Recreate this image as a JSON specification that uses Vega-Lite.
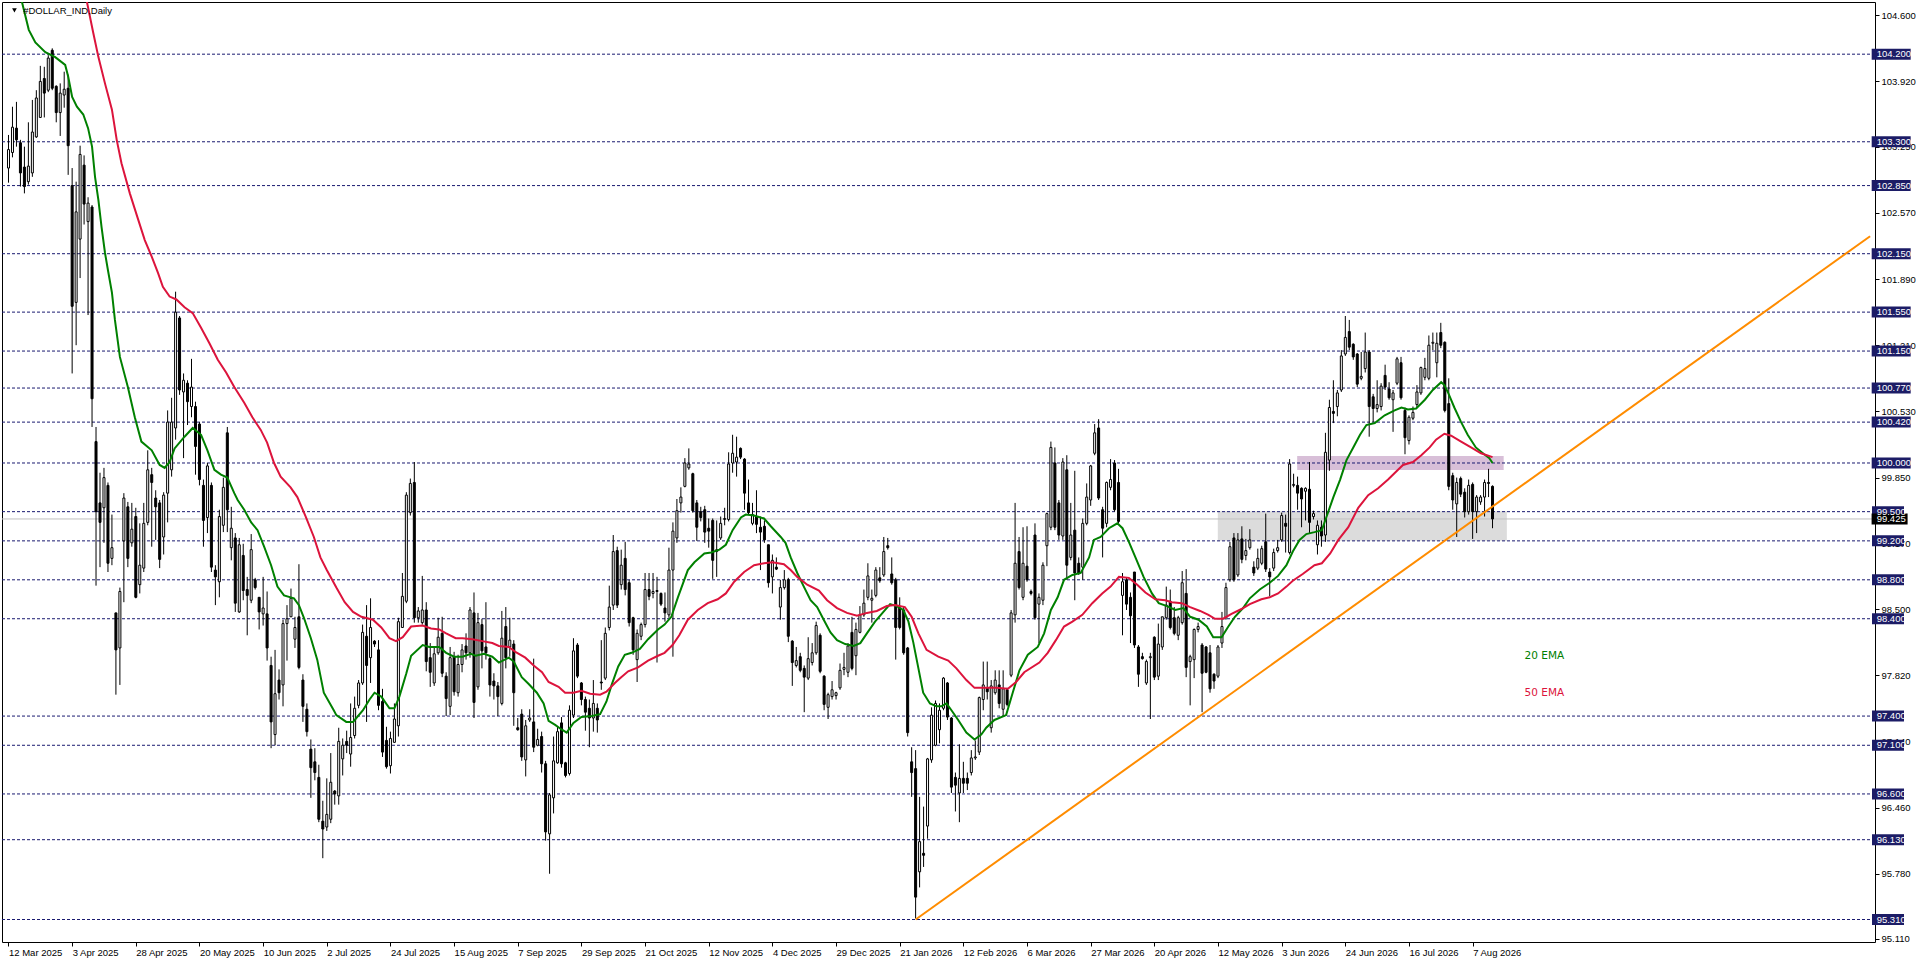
{
  "$schema": "https://vega.github.io/schema/vega-lite/v6.json",
  "width": 1873,
  "height": 940,
  "autosize": {"type": "none"},
  "padding": {"left": 2, "top": 2, "right": 41, "bottom": 21},
  "background": "white",
  "config": {
    "view": {"stroke": "black", "strokeWidth": 1},
    "axis": {"domain": false, "grid": false, "labelFont": "Liberation Sans", "labelFontSize": 9.5, "labelColor": "black", "tickColor": "black", "tickSize": 4}
  },
  "resolve": {"scale": {"color": "independent"}},
  "datasets": {
    "bars": [
      {"i":0,"o":103.03,"h":103.37,"l":102.88,"c":103.22},
      {"i":1,"o":103.19,"h":103.66,"l":103.14,"c":103.45},
      {"i":2,"o":103.44,"h":103.71,"l":103.25,"c":103.32},
      {"i":3,"o":103.29,"h":103.32,"l":102.84,"c":102.98},
      {"i":4,"o":103.04,"h":103.25,"l":102.77,"c":102.84},
      {"i":5,"o":102.89,"h":103.50,"l":102.86,"c":103.05},
      {"i":6,"o":102.98,"h":103.73,"l":102.94,"c":103.40},
      {"i":7,"o":103.35,"h":103.83,"l":103.34,"c":103.75},
      {"i":8,"o":103.55,"h":104.08,"l":103.55,"c":103.92},
      {"i":9,"o":103.95,"h":104.07,"l":103.55,"c":103.80},
      {"i":10,"o":103.83,"h":104.19,"l":103.81,"c":104.16},
      {"i":11,"o":104.24,"h":104.26,"l":103.83,"c":103.85},
      {"i":12,"o":103.87,"h":103.88,"l":103.50,"c":103.60},
      {"i":13,"o":103.60,"h":103.90,"l":103.36,"c":103.80},
      {"i":14,"o":103.78,"h":104.02,"l":103.65,"c":103.84},
      {"i":15,"o":103.85,"h":103.99,"l":102.96,"c":103.26},
      {"i":16,"o":102.85,"h":103.03,"l":100.92,"c":101.61},
      {"i":17,"o":101.65,"h":102.89,"l":101.21,"c":102.58},
      {"i":18,"o":102.30,"h":103.26,"l":101.90,"c":103.17},
      {"i":19,"o":103.06,"h":103.16,"l":102.45,"c":102.66},
      {"i":20,"o":102.48,"h":102.73,"l":101.52,"c":102.67},
      {"i":21,"o":102.63,"h":102.65,"l":100.37,"c":100.66},
      {"i":22,"o":100.22,"h":100.37,"l":98.74,"c":99.50},
      {"i":23,"o":99.59,"h":99.90,"l":98.93,"c":99.39},
      {"i":24,"o":99.54,"h":99.95,"l":99.18,"c":99.85},
      {"i":25,"o":99.77,"h":99.80,"l":98.88,"c":98.97},
      {"i":26,"o":99.02,"h":99.47,"l":98.95,"c":99.13},
      {"i":27,"o":98.46,"h":98.46,"l":97.62,"c":98.08},
      {"i":28,"o":98.10,"h":98.72,"l":97.72,"c":98.68},
      {"i":29,"o":99.20,"h":99.69,"l":98.57,"c":99.64},
      {"i":30,"o":99.55,"h":99.60,"l":98.93,"c":99.02},
      {"i":31,"o":99.18,"h":99.59,"l":99.14,"c":99.32},
      {"i":32,"o":99.45,"h":99.54,"l":98.61,"c":98.62},
      {"i":33,"o":98.75,"h":99.38,"l":98.66,"c":98.95},
      {"i":34,"o":98.92,"h":99.59,"l":98.88,"c":99.38},
      {"i":35,"o":99.39,"h":100.13,"l":99.36,"c":99.93},
      {"i":36,"o":99.88,"h":99.95,"l":99.14,"c":99.80},
      {"i":37,"o":99.64,"h":99.72,"l":99.21,"c":99.55},
      {"i":38,"o":99.59,"h":99.62,"l":98.92,"c":99.01},
      {"i":39,"o":99.24,"h":99.70,"l":99.06,"c":99.67},
      {"i":40,"o":99.69,"h":100.54,"l":99.39,"c":100.42},
      {"i":41,"o":99.93,"h":100.67,"l":99.86,"c":100.42},
      {"i":42,"o":100.36,"h":101.76,"l":100.24,"c":101.55},
      {"i":43,"o":101.49,"h":101.51,"l":100.70,"c":100.75},
      {"i":44,"o":100.73,"h":100.92,"l":100.05,"c":100.85},
      {"i":45,"o":100.82,"h":100.85,"l":100.39,"c":100.63},
      {"i":46,"o":100.58,"h":101.07,"l":100.47,"c":100.78},
      {"i":47,"o":100.58,"h":100.63,"l":99.88,"c":100.17},
      {"i":48,"o":100.40,"h":100.42,"l":99.77,"c":99.83},
      {"i":49,"o":99.77,"h":99.83,"l":99.14,"c":99.41},
      {"i":50,"o":99.44,"h":100.00,"l":99.28,"c":99.97},
      {"i":51,"o":99.77,"h":99.80,"l":98.88,"c":98.93},
      {"i":52,"o":98.90,"h":98.95,"l":98.54,"c":98.83},
      {"i":53,"o":98.78,"h":99.52,"l":98.62,"c":99.45},
      {"i":54,"o":99.36,"h":99.85,"l":99.29,"c":99.75},
      {"i":55,"o":100.31,"h":100.37,"l":99.29,"c":99.52},
      {"i":56,"o":99.13,"h":99.55,"l":99.00,"c":99.33},
      {"i":57,"o":99.23,"h":99.28,"l":98.47,"c":98.56},
      {"i":58,"o":98.47,"h":99.23,"l":98.46,"c":99.16},
      {"i":59,"o":99.05,"h":99.17,"l":98.59,"c":98.69},
      {"i":60,"o":98.70,"h":98.83,"l":98.23,"c":98.64},
      {"i":61,"o":98.59,"h":99.27,"l":98.56,"c":99.11},
      {"i":62,"o":98.80,"h":98.82,"l":98.70,"c":98.72},
      {"i":63,"o":98.62,"h":98.62,"l":98.29,"c":98.47},
      {"i":64,"o":98.45,"h":98.83,"l":98.33,"c":98.51},
      {"i":65,"o":98.45,"h":98.68,"l":97.97,"c":98.10},
      {"i":66,"o":97.92,"h":98.01,"l":97.07,"c":97.34},
      {"i":67,"o":97.21,"h":98.08,"l":97.10,"c":97.63},
      {"i":68,"o":97.77,"h":97.88,"l":97.57,"c":97.64},
      {"i":69,"o":97.72,"h":98.39,"l":97.50,"c":98.35},
      {"i":70,"o":98.35,"h":98.54,"l":97.97,"c":98.40},
      {"i":71,"o":98.42,"h":98.71,"l":98.42,"c":98.61},
      {"i":72,"o":98.19,"h":98.42,"l":98.10,"c":98.31},
      {"i":73,"o":98.42,"h":98.96,"l":97.88,"c":97.90},
      {"i":74,"o":97.77,"h":97.83,"l":97.34,"c":97.50},
      {"i":75,"o":97.47,"h":97.53,"l":97.19,"c":97.24},
      {"i":76,"o":97.06,"h":97.16,"l":96.56,"c":96.87},
      {"i":77,"o":96.93,"h":97.07,"l":96.74,"c":96.82},
      {"i":78,"o":96.77,"h":96.90,"l":96.31,"c":96.34},
      {"i":79,"o":96.32,"h":96.53,"l":95.94,"c":96.24},
      {"i":80,"o":96.26,"h":96.76,"l":96.22,"c":96.39},
      {"i":81,"o":96.34,"h":97.02,"l":96.30,"c":96.72},
      {"i":82,"o":96.63,"h":96.64,"l":96.49,"c":96.60},
      {"i":83,"o":96.58,"h":97.28,"l":96.49,"c":97.14},
      {"i":84,"o":96.96,"h":97.17,"l":96.79,"c":97.10},
      {"i":85,"o":97.14,"h":97.25,"l":97.02,"c":97.10},
      {"i":86,"o":97.01,"h":97.53,"l":96.88,"c":97.18},
      {"i":87,"o":97.20,"h":97.60,"l":97.17,"c":97.48},
      {"i":88,"o":97.51,"h":97.77,"l":97.48,"c":97.74},
      {"i":89,"o":97.74,"h":98.34,"l":97.72,"c":98.26},
      {"i":90,"o":98.22,"h":98.54,"l":97.34,"c":97.92},
      {"i":91,"o":98.00,"h":98.61,"l":97.74,"c":98.31},
      {"i":92,"o":98.17,"h":98.18,"l":98.11,"c":98.14},
      {"i":93,"o":98.08,"h":98.18,"l":97.46,"c":97.51},
      {"i":94,"o":97.55,"h":97.68,"l":96.98,"c":97.03},
      {"i":95,"o":97.15,"h":97.29,"l":96.86,"c":96.88},
      {"i":96,"o":96.89,"h":97.24,"l":96.81,"c":97.17},
      {"i":97,"o":97.13,"h":97.53,"l":97.13,"c":97.37},
      {"i":98,"o":97.30,"h":98.41,"l":97.19,"c":98.37},
      {"i":99,"o":98.31,"h":98.87,"l":98.31,"c":98.63},
      {"i":100,"o":98.58,"h":99.70,"l":98.56,"c":99.67},
      {"i":101,"o":99.49,"h":99.84,"l":99.46,"c":99.79},
      {"i":102,"o":99.80,"h":100.01,"l":98.36,"c":98.41},
      {"i":103,"o":98.41,"h":98.52,"l":98.36,"c":98.48},
      {"i":104,"o":98.36,"h":98.84,"l":98.34,"c":98.49},
      {"i":105,"o":98.49,"h":98.57,"l":97.86,"c":97.96},
      {"i":106,"o":98.00,"h":98.15,"l":97.70,"c":97.85},
      {"i":107,"o":97.74,"h":98.10,"l":97.71,"c":98.04},
      {"i":108,"o":98.05,"h":98.41,"l":98.03,"c":98.21},
      {"i":109,"o":98.25,"h":98.42,"l":97.80,"c":97.84},
      {"i":110,"o":97.81,"h":97.85,"l":97.40,"c":97.58},
      {"i":111,"o":97.50,"h":98.11,"l":97.41,"c":98.00},
      {"i":112,"o":98.01,"h":98.06,"l":97.61,"c":97.65},
      {"i":113,"o":97.64,"h":98.03,"l":97.60,"c":97.93},
      {"i":114,"o":97.93,"h":98.14,"l":97.85,"c":98.08},
      {"i":115,"o":98.12,"h":98.25,"l":97.98,"c":98.05},
      {"i":116,"o":98.05,"h":98.52,"l":98.00,"c":98.49},
      {"i":117,"o":98.46,"h":98.67,"l":97.38,"c":97.54},
      {"i":118,"o":97.70,"h":98.46,"l":97.67,"c":98.36},
      {"i":119,"o":98.34,"h":98.40,"l":97.89,"c":98.07},
      {"i":120,"o":98.11,"h":98.57,"l":97.98,"c":98.05},
      {"i":121,"o":97.99,"h":98.01,"l":97.60,"c":97.72},
      {"i":122,"o":97.76,"h":97.84,"l":97.57,"c":97.71},
      {"i":123,"o":97.71,"h":97.75,"l":97.40,"c":97.60},
      {"i":124,"o":97.53,"h":98.48,"l":97.51,"c":98.20},
      {"i":125,"o":98.32,"h":98.52,"l":97.89,"c":98.00},
      {"i":126,"o":98.11,"h":98.41,"l":98.01,"c":98.18},
      {"i":127,"o":98.14,"h":98.18,"l":97.30,"c":97.64},
      {"i":128,"o":97.28,"h":97.38,"l":97.25,"c":97.26},
      {"i":129,"o":97.42,"h":97.47,"l":96.94,"c":96.98},
      {"i":130,"o":96.95,"h":97.36,"l":96.78,"c":97.30},
      {"i":131,"o":97.36,"h":97.47,"l":97.34,"c":97.38},
      {"i":132,"o":97.34,"h":97.99,"l":97.03,"c":97.08},
      {"i":133,"o":97.10,"h":97.27,"l":97.09,"c":97.16},
      {"i":134,"o":97.19,"h":97.24,"l":96.82,"c":96.91},
      {"i":135,"o":96.91,"h":96.94,"l":96.12,"c":96.21},
      {"i":136,"o":96.19,"h":96.61,"l":95.78,"c":96.59},
      {"i":137,"o":96.56,"h":97.19,"l":96.40,"c":96.94},
      {"i":138,"o":96.92,"h":97.29,"l":96.91,"c":97.24},
      {"i":139,"o":97.33,"h":97.39,"l":96.87,"c":96.91},
      {"i":140,"o":96.92,"h":96.93,"l":96.77,"c":96.79},
      {"i":141,"o":96.81,"h":97.51,"l":96.79,"c":97.46},
      {"i":142,"o":97.41,"h":98.20,"l":97.38,"c":98.07},
      {"i":143,"o":98.13,"h":98.15,"l":97.79,"c":97.81},
      {"i":144,"o":97.74,"h":97.75,"l":97.51,"c":97.57},
      {"i":145,"o":97.57,"h":97.60,"l":97.25,"c":97.44},
      {"i":146,"o":97.48,"h":97.57,"l":97.08,"c":97.38},
      {"i":147,"o":97.38,"h":97.77,"l":97.24,"c":97.53},
      {"i":148,"o":97.48,"h":97.53,"l":97.23,"c":97.36},
      {"i":149,"o":97.75,"h":98.18,"l":97.67,"c":97.74},
      {"i":150,"o":97.79,"h":98.31,"l":97.77,"c":98.25},
      {"i":151,"o":98.31,"h":98.74,"l":98.28,"c":98.52},
      {"i":152,"o":98.54,"h":99.26,"l":98.49,"c":99.09},
      {"i":153,"o":99.10,"h":99.14,"l":98.51,"c":98.54},
      {"i":154,"o":98.75,"h":99.11,"l":98.70,"c":98.95},
      {"i":155,"o":99.02,"h":99.19,"l":98.64,"c":98.70},
      {"i":156,"o":98.77,"h":98.80,"l":98.32,"c":98.36},
      {"i":157,"o":98.41,"h":98.42,"l":98.03,"c":98.08},
      {"i":158,"o":97.98,"h":98.29,"l":97.75,"c":98.25},
      {"i":159,"o":98.22,"h":98.36,"l":98.18,"c":98.34},
      {"i":160,"o":98.34,"h":98.87,"l":98.31,"c":98.70},
      {"i":161,"o":98.70,"h":98.87,"l":98.59,"c":98.63},
      {"i":162,"o":98.66,"h":98.87,"l":98.61,"c":98.68},
      {"i":163,"o":98.68,"h":98.83,"l":97.95,"c":98.69},
      {"i":164,"o":98.66,"h":98.67,"l":98.53,"c":98.55},
      {"i":165,"o":98.51,"h":98.67,"l":98.37,"c":98.46},
      {"i":166,"o":98.44,"h":99.13,"l":98.41,"c":98.90},
      {"i":167,"o":98.90,"h":99.39,"l":98.01,"c":99.30},
      {"i":168,"o":99.23,"h":99.63,"l":99.18,"c":99.51},
      {"i":169,"o":99.59,"h":99.75,"l":99.49,"c":99.65},
      {"i":170,"o":99.76,"h":100.05,"l":99.75,"c":100.00},
      {"i":171,"o":99.95,"h":100.15,"l":99.93,"c":99.99},
      {"i":172,"o":99.89,"h":99.90,"l":99.49,"c":99.51},
      {"i":173,"o":99.59,"h":99.62,"l":99.20,"c":99.34},
      {"i":174,"o":99.50,"h":99.55,"l":99.40,"c":99.44},
      {"i":175,"o":99.52,"h":99.56,"l":99.18,"c":99.29},
      {"i":176,"o":99.33,"h":99.43,"l":99.13,"c":99.30},
      {"i":177,"o":99.41,"h":99.43,"l":98.81,"c":99.00},
      {"i":178,"o":99.09,"h":99.41,"l":98.83,"c":99.11},
      {"i":179,"o":99.23,"h":99.45,"l":99.21,"c":99.38},
      {"i":180,"o":99.42,"h":99.54,"l":99.36,"c":99.43},
      {"i":181,"o":99.42,"h":100.11,"l":99.40,"c":99.99},
      {"i":182,"o":100.00,"h":100.29,"l":99.90,"c":100.10},
      {"i":183,"o":100.01,"h":100.27,"l":99.86,"c":100.06},
      {"i":184,"o":100.15,"h":100.16,"l":100.04,"c":100.06},
      {"i":185,"o":100.04,"h":100.05,"l":99.52,"c":99.69},
      {"i":186,"o":99.59,"h":99.83,"l":99.47,"c":99.49},
      {"i":187,"o":99.38,"h":99.59,"l":99.36,"c":99.47},
      {"i":188,"o":99.45,"h":99.72,"l":99.28,"c":99.37},
      {"i":189,"o":99.34,"h":99.45,"l":98.90,"c":99.29},
      {"i":190,"o":99.35,"h":99.41,"l":99.18,"c":99.21},
      {"i":191,"o":99.16,"h":99.16,"l":98.72,"c":98.77},
      {"i":192,"o":98.83,"h":99.06,"l":98.66,"c":99.00},
      {"i":193,"o":98.93,"h":99.03,"l":98.90,"c":98.91},
      {"i":194,"o":98.52,"h":98.80,"l":98.39,"c":98.72},
      {"i":195,"o":98.72,"h":98.90,"l":98.70,"c":98.80},
      {"i":196,"o":98.80,"h":98.82,"l":98.16,"c":98.22},
      {"i":197,"o":98.17,"h":98.18,"l":97.71,"c":97.95},
      {"i":198,"o":97.92,"h":98.11,"l":97.90,"c":97.97},
      {"i":199,"o":98.01,"h":98.05,"l":97.85,"c":97.87},
      {"i":200,"o":97.89,"h":97.92,"l":97.44,"c":97.80},
      {"i":201,"o":97.79,"h":98.21,"l":97.77,"c":97.99},
      {"i":202,"o":97.95,"h":98.15,"l":97.92,"c":98.05},
      {"i":203,"o":98.05,"h":98.37,"l":98.03,"c":98.33},
      {"i":204,"o":98.23,"h":98.25,"l":97.84,"c":97.86},
      {"i":205,"o":97.81,"h":97.82,"l":97.46,"c":97.52},
      {"i":206,"o":97.49,"h":97.64,"l":97.37,"c":97.62},
      {"i":207,"o":97.60,"h":97.76,"l":97.57,"c":97.67},
      {"i":208,"o":97.61,"h":97.65,"l":97.57,"c":97.64},
      {"i":209,"o":97.69,"h":97.94,"l":97.67,"c":97.87},
      {"i":210,"o":97.88,"h":98.05,"l":97.82,"c":97.90},
      {"i":211,"o":97.85,"h":98.15,"l":97.80,"c":98.12},
      {"i":212,"o":98.26,"h":98.42,"l":97.87,"c":97.89},
      {"i":213,"o":98.02,"h":98.36,"l":97.82,"c":98.29},
      {"i":214,"o":98.26,"h":98.53,"l":98.25,"c":98.44},
      {"i":215,"o":98.44,"h":98.70,"l":98.42,"c":98.56},
      {"i":216,"o":98.62,"h":98.97,"l":98.59,"c":98.84},
      {"i":217,"o":98.59,"h":98.70,"l":98.36,"c":98.61},
      {"i":218,"o":98.64,"h":98.93,"l":98.62,"c":98.90},
      {"i":219,"o":98.82,"h":98.93,"l":98.77,"c":98.79},
      {"i":220,"o":98.85,"h":99.24,"l":98.83,"c":99.09},
      {"i":221,"o":99.15,"h":99.23,"l":99.11,"c":99.13},
      {"i":222,"o":98.86,"h":99.03,"l":98.75,"c":98.77},
      {"i":223,"o":98.80,"h":98.82,"l":97.98,"c":98.31},
      {"i":224,"o":98.51,"h":98.62,"l":98.29,"c":98.31},
      {"i":225,"o":98.49,"h":98.52,"l":98.03,"c":98.05},
      {"i":226,"o":98.10,"h":98.11,"l":97.19,"c":97.23},
      {"i":227,"o":96.93,"h":97.08,"l":96.57,"c":96.82},
      {"i":228,"o":96.86,"h":97.05,"l":95.32,"c":95.54},
      {"i":229,"o":95.80,"h":96.57,"l":95.64,"c":96.11},
      {"i":230,"o":95.99,"h":96.47,"l":95.85,"c":95.97},
      {"i":231,"o":96.27,"h":96.97,"l":96.14,"c":96.96},
      {"i":232,"o":96.95,"h":97.49,"l":96.92,"c":97.41},
      {"i":233,"o":97.10,"h":97.56,"l":97.09,"c":97.53},
      {"i":234,"o":97.26,"h":97.53,"l":97.12,"c":97.46},
      {"i":235,"o":97.48,"h":97.80,"l":97.46,"c":97.79},
      {"i":236,"o":97.74,"h":97.75,"l":97.36,"c":97.39},
      {"i":237,"o":97.38,"h":97.39,"l":96.61,"c":96.67},
      {"i":238,"o":96.77,"h":96.82,"l":96.42,"c":96.69},
      {"i":239,"o":96.61,"h":97.11,"l":96.31,"c":96.76},
      {"i":240,"o":96.76,"h":96.93,"l":96.61,"c":96.71},
      {"i":241,"o":96.76,"h":96.82,"l":96.64,"c":96.71},
      {"i":242,"o":96.82,"h":97.05,"l":96.79,"c":96.97},
      {"i":243,"o":96.97,"h":97.15,"l":96.95,"c":96.98},
      {"i":244,"o":97.03,"h":97.60,"l":97.00,"c":97.59},
      {"i":245,"o":97.57,"h":97.96,"l":97.46,"c":97.72},
      {"i":246,"o":97.69,"h":97.96,"l":97.57,"c":97.65},
      {"i":247,"o":97.28,"h":97.77,"l":97.23,"c":97.71},
      {"i":248,"o":97.64,"h":97.87,"l":97.62,"c":97.77},
      {"i":249,"o":97.72,"h":97.87,"l":97.48,"c":97.53},
      {"i":250,"o":97.47,"h":97.87,"l":97.39,"c":97.68},
      {"i":251,"o":97.67,"h":97.69,"l":97.50,"c":97.52},
      {"i":252,"o":97.82,"h":98.49,"l":97.80,"c":98.46},
      {"i":253,"o":98.44,"h":99.59,"l":98.36,"c":98.97},
      {"i":254,"o":99.09,"h":99.24,"l":98.70,"c":98.72},
      {"i":255,"o":98.62,"h":99.34,"l":98.59,"c":98.97},
      {"i":256,"o":98.94,"h":99.35,"l":98.78,"c":98.80},
      {"i":257,"o":98.68,"h":98.70,"l":98.64,"c":98.66},
      {"i":258,"o":99.26,"h":99.38,"l":98.39,"c":98.41},
      {"i":259,"o":98.55,"h":98.66,"l":98.15,"c":98.62},
      {"i":260,"o":98.59,"h":98.98,"l":98.54,"c":98.95},
      {"i":261,"o":99.15,"h":99.49,"l":98.94,"c":99.48},
      {"i":262,"o":99.34,"h":100.22,"l":99.31,"c":100.16},
      {"i":263,"o":100.00,"h":100.16,"l":99.31,"c":99.34},
      {"i":264,"o":99.59,"h":99.62,"l":99.21,"c":99.26},
      {"i":265,"o":99.25,"h":100.05,"l":99.21,"c":100.01},
      {"i":266,"o":99.93,"h":100.08,"l":98.80,"c":98.95},
      {"i":267,"o":99.03,"h":99.59,"l":99.00,"c":99.26},
      {"i":268,"o":99.31,"h":99.92,"l":98.59,"c":98.87},
      {"i":269,"o":98.97,"h":99.03,"l":98.85,"c":98.87},
      {"i":270,"o":98.93,"h":99.43,"l":98.80,"c":99.38},
      {"i":271,"o":99.38,"h":99.79,"l":99.36,"c":99.65},
      {"i":272,"o":99.62,"h":99.98,"l":99.56,"c":99.97},
      {"i":273,"o":100.10,"h":100.40,"l":100.08,"c":100.31},
      {"i":274,"o":100.36,"h":100.45,"l":99.62,"c":99.64},
      {"i":275,"o":99.52,"h":99.55,"l":99.03,"c":99.33},
      {"i":276,"o":99.38,"h":99.81,"l":99.34,"c":99.80},
      {"i":277,"o":99.75,"h":100.04,"l":99.72,"c":99.83},
      {"i":278,"o":100.00,"h":100.03,"l":99.50,"c":99.52},
      {"i":279,"o":99.80,"h":99.94,"l":99.38,"c":99.40},
      {"i":280,"o":98.64,"h":98.87,"l":98.23,"c":98.78},
      {"i":281,"o":98.80,"h":98.82,"l":98.49,"c":98.55},
      {"i":282,"o":98.62,"h":98.67,"l":98.15,"c":98.43},
      {"i":283,"o":98.88,"h":98.88,"l":98.10,"c":98.13},
      {"i":284,"o":98.11,"h":98.13,"l":97.70,"c":97.83},
      {"i":285,"o":98.01,"h":98.05,"l":97.98,"c":97.99},
      {"i":286,"o":97.74,"h":97.98,"l":97.72,"c":97.96},
      {"i":287,"o":98.00,"h":98.05,"l":97.37,"c":98.01},
      {"i":288,"o":98.21,"h":98.22,"l":97.77,"c":97.80},
      {"i":289,"o":97.81,"h":98.35,"l":97.77,"c":98.14},
      {"i":290,"o":98.11,"h":98.42,"l":98.08,"c":98.42},
      {"i":291,"o":98.41,"h":98.73,"l":98.39,"c":98.54},
      {"i":292,"o":98.58,"h":98.70,"l":98.29,"c":98.31},
      {"i":293,"o":98.41,"h":98.52,"l":98.23,"c":98.25},
      {"i":294,"o":98.23,"h":98.43,"l":98.18,"c":98.41},
      {"i":295,"o":98.36,"h":98.89,"l":98.34,"c":98.77},
      {"i":296,"o":98.66,"h":98.91,"l":97.80,"c":97.90},
      {"i":297,"o":97.96,"h":98.03,"l":97.51,"c":98.01},
      {"i":298,"o":97.98,"h":98.30,"l":97.79,"c":98.29},
      {"i":299,"o":98.29,"h":98.36,"l":98.26,"c":98.32},
      {"i":300,"o":98.13,"h":98.15,"l":97.44,"c":97.84},
      {"i":301,"o":98.11,"h":98.12,"l":97.84,"c":97.85},
      {"i":302,"o":98.05,"h":98.13,"l":97.64,"c":97.68},
      {"i":303,"o":97.83,"h":97.84,"l":97.68,"c":97.76},
      {"i":304,"o":97.81,"h":98.13,"l":97.79,"c":98.11},
      {"i":305,"o":98.15,"h":98.47,"l":98.10,"c":98.32},
      {"i":306,"o":98.41,"h":98.77,"l":98.39,"c":98.72},
      {"i":307,"o":98.80,"h":99.19,"l":98.78,"c":99.14},
      {"i":308,"o":99.23,"h":99.28,"l":98.78,"c":98.80},
      {"i":309,"o":98.85,"h":99.28,"l":98.83,"c":99.21},
      {"i":310,"o":99.22,"h":99.35,"l":98.97,"c":99.01},
      {"i":311,"o":99.05,"h":99.22,"l":99.00,"c":99.10},
      {"i":312,"o":99.13,"h":99.32,"l":99.11,"c":99.21},
      {"i":313,"o":98.93,"h":98.99,"l":98.84,"c":98.87},
      {"i":314,"o":98.92,"h":99.12,"l":98.90,"c":99.02},
      {"i":315,"o":98.97,"h":99.15,"l":98.95,"c":99.12},
      {"i":316,"o":99.19,"h":99.48,"l":98.88,"c":98.91},
      {"i":317,"o":98.88,"h":98.92,"l":98.63,"c":98.83},
      {"i":318,"o":98.92,"h":99.12,"l":98.89,"c":99.08},
      {"i":319,"o":99.10,"h":99.21,"l":99.08,"c":99.13},
      {"i":320,"o":99.21,"h":99.49,"l":99.19,"c":99.46},
      {"i":321,"o":99.38,"h":99.47,"l":99.08,"c":99.35},
      {"i":322,"o":99.08,"h":100.04,"l":99.06,"c":99.99},
      {"i":323,"o":99.77,"h":99.89,"l":99.75,"c":99.78},
      {"i":324,"o":99.77,"h":99.86,"l":99.52,"c":99.69},
      {"i":325,"o":99.74,"h":99.75,"l":99.34,"c":99.63},
      {"i":326,"o":99.71,"h":99.75,"l":99.41,"c":99.74},
      {"i":327,"o":99.73,"h":100.01,"l":99.28,"c":99.39},
      {"i":328,"o":99.45,"h":99.51,"l":99.42,"c":99.48},
      {"i":329,"o":99.16,"h":99.41,"l":99.06,"c":99.36},
      {"i":330,"o":99.34,"h":99.41,"l":99.14,"c":99.25},
      {"i":331,"o":99.26,"h":100.31,"l":99.19,"c":100.11},
      {"i":332,"o":100.03,"h":100.65,"l":99.92,"c":100.57},
      {"i":333,"o":100.53,"h":100.85,"l":100.41,"c":100.51},
      {"i":334,"o":100.58,"h":100.75,"l":100.48,"c":100.72},
      {"i":335,"o":100.75,"h":101.16,"l":100.73,"c":101.10},
      {"i":336,"o":101.12,"h":101.51,"l":101.10,"c":101.29},
      {"i":337,"o":101.35,"h":101.47,"l":101.16,"c":101.19},
      {"i":338,"o":101.22,"h":101.23,"l":101.06,"c":101.09},
      {"i":339,"o":101.12,"h":101.13,"l":100.78,"c":100.81},
      {"i":340,"o":100.87,"h":101.14,"l":100.85,"c":100.89},
      {"i":341,"o":100.97,"h":101.34,"l":100.93,"c":101.14},
      {"i":342,"o":101.14,"h":101.16,"l":100.27,"c":100.58},
      {"i":343,"o":100.68,"h":100.71,"l":100.42,"c":100.56},
      {"i":344,"o":100.56,"h":100.85,"l":100.52,"c":100.60},
      {"i":345,"o":100.58,"h":100.82,"l":100.54,"c":100.79},
      {"i":346,"o":100.90,"h":101.01,"l":100.75,"c":100.78},
      {"i":347,"o":100.76,"h":100.83,"l":100.65,"c":100.67},
      {"i":348,"o":100.65,"h":100.75,"l":100.32,"c":100.72},
      {"i":349,"o":100.82,"h":101.09,"l":100.80,"c":101.07},
      {"i":350,"o":101.03,"h":101.09,"l":100.65,"c":100.67},
      {"i":351,"o":100.54,"h":100.57,"l":100.09,"c":100.26},
      {"i":352,"o":100.23,"h":100.49,"l":100.19,"c":100.47},
      {"i":353,"o":100.46,"h":100.58,"l":100.44,"c":100.52},
      {"i":354,"o":100.60,"h":100.80,"l":100.57,"c":100.73},
      {"i":355,"o":100.72,"h":100.99,"l":100.70,"c":100.98},
      {"i":356,"o":100.88,"h":101.08,"l":100.85,"c":100.97},
      {"i":357,"o":100.87,"h":101.31,"l":100.85,"c":101.21},
      {"i":358,"o":101.23,"h":101.34,"l":101.16,"c":101.24},
      {"i":359,"o":101.03,"h":101.34,"l":100.88,"c":101.23},
      {"i":360,"o":101.34,"h":101.44,"l":101.18,"c":101.21},
      {"i":361,"o":101.24,"h":101.25,"l":100.52,"c":100.54},
      {"i":362,"o":100.61,"h":100.87,"l":99.72,"c":99.76},
      {"i":363,"o":99.87,"h":99.90,"l":99.52,"c":99.62},
      {"i":364,"o":99.58,"h":99.85,"l":99.24,"c":99.80},
      {"i":365,"o":99.84,"h":99.86,"l":99.65,"c":99.68},
      {"i":366,"o":99.70,"h":99.74,"l":99.44,"c":99.50},
      {"i":367,"o":99.50,"h":99.83,"l":99.47,"c":99.77},
      {"i":368,"o":99.78,"h":99.80,"l":99.22,"c":99.50},
      {"i":369,"o":99.50,"h":99.67,"l":99.28,"c":99.65},
      {"i":370,"o":99.60,"h":99.67,"l":99.57,"c":99.65},
      {"i":371,"o":99.65,"h":99.83,"l":99.45,"c":99.80},
      {"i":372,"o":99.80,"h":99.94,"l":99.65,"c":99.79},
      {"i":373,"o":99.76,"h":99.77,"l":99.33,"c":99.425}
    ],
    "ema20": [
      {"i":3,"p":104.80},{"i":5.1,"p":104.45},{"i":6.75,"p":104.32},{"i":9.25,"p":104.22},{"i":11.75,"p":104.17},
      {"i":14.25,"p":104.09},{"i":15,"p":103.97},{"i":16,"p":103.76},{"i":17.2,"p":103.66},{"i":18.8,"p":103.58},
      {"i":20,"p":103.44},{"i":21,"p":103.25},{"i":21.75,"p":102.94},{"i":22.6,"p":102.70},{"i":23.4,"p":102.42},
      {"i":24.25,"p":102.16},{"i":25,"p":101.98},{"i":26,"p":101.75},{"i":26.75,"p":101.47},{"i":28,"p":101.09},
      {"i":30,"p":100.78},{"i":31.75,"p":100.47},{"i":33.4,"p":100.22},{"i":36,"p":100.13},{"i":38,"p":99.98},
      {"i":39.25,"p":99.95},{"i":40.5,"p":100.01},{"i":41.75,"p":100.15},{"i":44.25,"p":100.27},{"i":46.3,"p":100.36},
      {"i":48.4,"p":100.29},{"i":50,"p":100.13},{"i":51.75,"p":99.93},{"i":53.4,"p":99.88},{"i":55,"p":99.85},
      {"i":56.75,"p":99.69},{"i":57.6,"p":99.62},{"i":59.25,"p":99.52},{"i":61,"p":99.39},{"i":62.6,"p":99.31},
      {"i":64.25,"p":99.14},{"i":66,"p":98.95},{"i":67.6,"p":98.73},{"i":69.25,"p":98.64},{"i":71.75,"p":98.61},
      {"i":73,"p":98.54},{"i":74.25,"p":98.41},{"i":76,"p":98.20},{"i":77.6,"p":97.98},{"i":79.25,"p":97.64},
      {"i":81.75,"p":97.46},{"i":82.4,"p":97.41},{"i":84.9,"p":97.34},{"i":86.6,"p":97.34},{"i":89.1,"p":97.46},
      {"i":90.75,"p":97.57},{"i":92,"p":97.64},{"i":93.7,"p":97.60},{"i":95.75,"p":97.48},{"i":97,"p":97.48},
      {"i":98.25,"p":97.60},{"i":100,"p":97.84},{"i":101.2,"p":98.02},{"i":104.1,"p":98.13},{"i":105.75,"p":98.11},
      {"i":108.25,"p":98.11},{"i":110,"p":98.05},{"i":112,"p":98.01},{"i":114.1,"p":98.01},{"i":116.2,"p":98.04},
      {"i":117.4,"p":98.02},{"i":119.5,"p":98.04},{"i":121.6,"p":98.01},{"i":123.25,"p":97.95},{"i":125.75,"p":98.00},
      {"i":127,"p":97.96},{"i":129,"p":97.80},{"i":130.75,"p":97.73},{"i":132.8,"p":97.64},{"i":134.5,"p":97.53},
      {"i":135.75,"p":97.35},{"i":137.4,"p":97.31},{"i":139.1,"p":97.26},{"i":140.3,"p":97.23},{"i":142,"p":97.33},
      {"i":144,"p":97.39},{"i":146.6,"p":97.40},{"i":148.7,"p":97.42},{"i":150.3,"p":97.55},{"i":151.6,"p":97.72},
      {"i":153.25,"p":97.91},{"i":154.9,"p":98.03},{"i":156.6,"p":98.05},{"i":158.7,"p":98.09},{"i":160.75,"p":98.19},
      {"i":163.25,"p":98.29},{"i":164.9,"p":98.34},{"i":166.6,"p":98.42},{"i":168.25,"p":98.62},{"i":170.75,"p":98.90},
      {"i":172.4,"p":98.98},{"i":174.9,"p":99.07},{"i":176.6,"p":99.08},{"i":178.7,"p":99.11},{"i":180.3,"p":99.16},
      {"i":182,"p":99.31},{"i":184.1,"p":99.44},{"i":185.3,"p":99.47},{"i":187.4,"p":99.46},{"i":189.9,"p":99.43},
      {"i":191.6,"p":99.35},{"i":194.1,"p":99.24},{"i":195.3,"p":99.18},{"i":196.6,"p":99.03},{"i":198.25,"p":98.87},
      {"i":199.9,"p":98.73},{"i":201.6,"p":98.59},{"i":203.25,"p":98.52},{"i":204.9,"p":98.39},{"i":206.6,"p":98.26},
      {"i":208.25,"p":98.18},{"i":210.3,"p":98.14},{"i":212.4,"p":98.12},{"i":214.1,"p":98.15},{"i":215.75,"p":98.25},
      {"i":217.8,"p":98.37},{"i":219.9,"p":98.47},{"i":221.6,"p":98.55},{"i":223.25,"p":98.53},{"i":224.9,"p":98.49},
      {"i":226.2,"p":98.37},{"i":227.4,"p":98.16},{"i":228.7,"p":97.89},{"i":229.9,"p":97.64},{"i":231.6,"p":97.53},
      {"i":233.25,"p":97.50},{"i":234.5,"p":97.50},{"i":235.75,"p":97.53},{"i":237,"p":97.46},{"i":238.7,"p":97.36},
      {"i":240.75,"p":97.23},{"i":242.8,"p":97.16},{"i":244.5,"p":97.21},{"i":245.75,"p":97.28},{"i":247.8,"p":97.36},
      {"i":250.75,"p":97.41},{"i":252.4,"p":97.64},{"i":254.1,"p":97.87},{"i":256.2,"p":98.03},{"i":258.7,"p":98.11},
      {"i":260.3,"p":98.25},{"i":262,"p":98.49},{"i":263.7,"p":98.62},{"i":265.3,"p":98.80},{"i":267.4,"p":98.85},
      {"i":269.5,"p":98.87},{"i":271.6,"p":99.03},{"i":272.8,"p":99.21},{"i":274.5,"p":99.24},{"i":276.6,"p":99.33},
      {"i":278.7,"p":99.38},{"i":280,"p":99.33},{"i":281.6,"p":99.19},{"i":283.25,"p":99.03},{"i":285.3,"p":98.83},
      {"i":287.4,"p":98.66},{"i":289.1,"p":98.56},{"i":291.2,"p":98.53},{"i":293.25,"p":98.49},{"i":295.3,"p":98.51},
      {"i":297,"p":98.42},{"i":299.1,"p":98.39},{"i":301.2,"p":98.32},{"i":302.8,"p":98.21},{"i":304.9,"p":98.21},
      {"i":306.6,"p":98.32},{"i":308.25,"p":98.42},{"i":310.3,"p":98.51},{"i":312,"p":98.61},{"i":314.5,"p":98.70},
      {"i":317,"p":98.77},{"i":319.1,"p":98.84},{"i":321.2,"p":98.95},{"i":322.8,"p":99.09},{"i":324.5,"p":99.21},
      {"i":326.2,"p":99.27},{"i":328.25,"p":99.29},{"i":330.1,"p":99.31},{"i":331.3,"p":99.45},{"i":333,"p":99.65},
      {"i":334.7,"p":99.83},{"i":336.3,"p":100.03},{"i":338,"p":100.16},{"i":339.7,"p":100.29},{"i":341.3,"p":100.39},
      {"i":343.4,"p":100.41},{"i":345.9,"p":100.49},{"i":348.4,"p":100.54},{"i":350.1,"p":100.57},{"i":351.75,"p":100.55},
      {"i":353.8,"p":100.56},{"i":356,"p":100.65},{"i":358,"p":100.75},{"i":360.1,"p":100.83},{"i":360.9,"p":100.80},
      {"i":361.75,"p":100.73},{"i":363.4,"p":100.57},{"i":365.1,"p":100.42},{"i":366.75,"p":100.29},{"i":368.8,"p":100.16},
      {"i":370.9,"p":100.09},{"i":372.2,"p":100.05},{"i":373,"p":100.00}
    ],
    "ema50": [
      {"i":19.5,"p":104.78},{"i":21.3,"p":104.42},{"i":22.6,"p":104.17},{"i":24.25,"p":103.90},{"i":26,"p":103.63},
      {"i":27.2,"p":103.32},{"i":28.4,"p":103.08},{"i":30.5,"p":102.77},{"i":32.6,"p":102.50},{"i":34.25,"p":102.29},
      {"i":36,"p":102.12},{"i":37.6,"p":101.95},{"i":38.8,"p":101.81},{"i":40.5,"p":101.71},{"i":42.2,"p":101.68},
      {"i":44.25,"p":101.60},{"i":46.3,"p":101.54},{"i":48.4,"p":101.39},{"i":50.5,"p":101.23},{"i":52.6,"p":101.06},
      {"i":54.7,"p":100.93},{"i":56.75,"p":100.78},{"i":59.25,"p":100.62},{"i":61.3,"p":100.47},{"i":63.4,"p":100.34},
      {"i":65,"p":100.21},{"i":66.75,"p":100.00},{"i":68.4,"p":99.86},{"i":70.9,"p":99.75},{"i":72.6,"p":99.65},
      {"i":74.7,"p":99.45},{"i":76.75,"p":99.24},{"i":78.4,"p":99.03},{"i":80,"p":98.90},{"i":81.75,"p":98.77},
      {"i":82.4,"p":98.72},{"i":84.5,"p":98.57},{"i":86.6,"p":98.47},{"i":88.7,"p":98.42},{"i":91.6,"p":98.39},
      {"i":93.7,"p":98.31},{"i":95.75,"p":98.20},{"i":97.4,"p":98.17},{"i":99.1,"p":98.21},{"i":101.2,"p":98.32},
      {"i":104.1,"p":98.33},{"i":106.2,"p":98.30},{"i":108.25,"p":98.29},{"i":110,"p":98.25},{"i":112.4,"p":98.20},
      {"i":114.1,"p":98.20},{"i":116.6,"p":98.19},{"i":119.1,"p":98.17},{"i":121.6,"p":98.15},{"i":123.25,"p":98.12},
      {"i":125.75,"p":98.11},{"i":127.4,"p":98.06},{"i":129.9,"p":98.00},{"i":132,"p":97.92},{"i":134.1,"p":97.85},
      {"i":135.75,"p":97.75},{"i":138.25,"p":97.70},{"i":139.9,"p":97.64},{"i":142,"p":97.64},{"i":144,"p":97.66},
      {"i":146.2,"p":97.63},{"i":148.7,"p":97.62},{"i":150.3,"p":97.65},{"i":152.4,"p":97.74},{"i":154,"p":97.80},
      {"i":155.75,"p":97.86},{"i":158.25,"p":97.90},{"i":160.75,"p":97.97},{"i":163.25,"p":98.02},{"i":164.9,"p":98.05},
      {"i":166.9,"p":98.13},{"i":168.6,"p":98.23},{"i":170.75,"p":98.39},{"i":173.25,"p":98.49},{"i":175.75,"p":98.56},
      {"i":178.25,"p":98.60},{"i":180.3,"p":98.66},{"i":182.4,"p":98.78},{"i":184.9,"p":98.88},{"i":187.4,"p":98.95},
      {"i":189.9,"p":98.97},{"i":192,"p":98.98},{"i":194.9,"p":98.96},{"i":196.6,"p":98.90},{"i":198.25,"p":98.83},
      {"i":200.75,"p":98.75},{"i":203.7,"p":98.69},{"i":205.75,"p":98.59},{"i":208.25,"p":98.51},{"i":210.75,"p":98.46},
      {"i":213.25,"p":98.43},{"i":215.75,"p":98.46},{"i":218.25,"p":98.48},{"i":220.75,"p":98.53},{"i":222.8,"p":98.54},
      {"i":225.3,"p":98.52},{"i":227,"p":98.42},{"i":228.7,"p":98.25},{"i":230.75,"p":98.08},{"i":233.7,"p":98.01},
      {"i":236.2,"p":97.97},{"i":238.25,"p":97.89},{"i":240.75,"p":97.77},{"i":242.8,"p":97.69},{"i":245.3,"p":97.69},
      {"i":248.25,"p":97.69},{"i":251.2,"p":97.68},{"i":253.25,"p":97.75},{"i":255.3,"p":97.85},{"i":259.1,"p":97.95},
      {"i":261.2,"p":98.05},{"i":263.25,"p":98.18},{"i":265.3,"p":98.32},{"i":267.4,"p":98.37},{"i":269.9,"p":98.44},
      {"i":272.4,"p":98.56},{"i":274.9,"p":98.66},{"i":277,"p":98.73},{"i":279.1,"p":98.83},{"i":281.6,"p":98.82},
      {"i":283.7,"p":98.75},{"i":285.75,"p":98.67},{"i":288.25,"p":98.60},{"i":290.75,"p":98.59},{"i":292.4,"p":98.57},
      {"i":294.9,"p":98.56},{"i":297,"p":98.52},{"i":299.5,"p":98.48},{"i":301.6,"p":98.44},{"i":303.25,"p":98.40},
      {"i":305.3,"p":98.40},{"i":307.4,"p":98.45},{"i":309.9,"p":98.50},{"i":312,"p":98.55},{"i":314.9,"p":98.60},
      {"i":317,"p":98.62},{"i":319.1,"p":98.66},{"i":321.2,"p":98.73},{"i":322.8,"p":98.79},{"i":325.3,"p":98.86},
      {"i":328.25,"p":98.95},{"i":330.1,"p":98.97},{"i":332.2,"p":99.07},{"i":334.25,"p":99.21},{"i":336.75,"p":99.34},
      {"i":339.25,"p":99.54},{"i":341.75,"p":99.67},{"i":344.25,"p":99.74},{"i":346.75,"p":99.83},{"i":349.25,"p":99.93},
      {"i":350.5,"p":99.98},{"i":353,"p":100.01},{"i":355.1,"p":100.08},{"i":357.2,"p":100.16},{"i":358.8,"p":100.24},
      {"i":360.9,"p":100.30},{"i":362.6,"p":100.28},{"i":365.1,"p":100.22},{"i":367.6,"p":100.16},{"i":370.1,"p":100.10},
      {"i":373,"p":100.06}
    ],
    "trend": [{"i":228,"p":95.31},{"i":467.9,"p":102.33}],
    "zones": [
      {"i":303.95,"i2":376.6,"p":99.2,"p2":99.504,"zone":"support"},
      {"i":323.9,"i2":375.8,"p":99.928,"p2":100.072,"zone":"resistance"}
    ],
    "levels": [
      {"p":104.2},{"p":103.3},{"p":102.85},{"p":102.15},{"p":101.55},{"p":101.15},{"p":100.77},{"p":100.42},{"p":100.0},
      {"p":99.5},{"p":99.2},{"p":98.8},{"p":98.4},{"p":97.4},{"p":97.1},{"p":96.6},{"p":96.13},{"p":95.31}
    ],
    "last": [{"p":99.425}],
    "caption": [{"i":3.7,"p":104.61,"t":"#DOLLAR_IND,Daily"}],
    "marker": [{"i":1.5,"p":104.65}],
    "notes": [{"i":381.05,"p":98.017,"t":"20 EMA"},{"i":381.05,"p":97.634,"t":"50 EMA"}]
  },
  "layer": [
    {
      "data": {"name": "zones"},
      "mark": {"type": "rect"},
      "encoding": {
        "x": {"field": "i", "type": "quantitative", "title": null, "scale": {"domain": [-0.375, 467.875], "nice": false, "zero": false}},
        "x2": {"field": "i2"},
        "y": {"field": "p", "type": "quantitative", "title": null, "scale": {"domain": [95.079, 104.736], "nice": false, "zero": false}},
        "y2": {"field": "p2"},
        "color": {"field": "zone", "type": "nominal", "scale": {"domain": ["support", "resistance"], "range": ["#DCDCDC", "#D8BFD8"]}, "legend": null}
      }
    },
    {
      "data": {"name": "levels"},
      "mark": {"type": "rule", "color": "#1a1a70", "strokeWidth": 1, "strokeDash": [3, 2]},
      "encoding": {
        "y": {"field": "p", "type": "quantitative", "title": null, "scale": {"domain": [95.079, 104.736], "nice": false, "zero": false}}
      }
    },
    {
      "data": {"name": "last"},
      "mark": {"type": "rule", "color": "#C0C0C0", "strokeWidth": 1},
      "encoding": {
        "y": {"field": "p", "type": "quantitative", "title": null, "scale": {"domain": [95.079, 104.736], "nice": false, "zero": false}}
      }
    },
    {
      "data": {"name": "bars"},
      "mark": {"type": "rule", "color": "black", "strokeWidth": 1},
      "encoding": {
        "x": {
          "field": "i", "type": "quantitative", "title": null,
          "scale": {"domain": [-0.375, 467.875], "nice": false, "zero": false},
          "axis": {
            "orient": "bottom", "title": null,
            "values": [0, 16, 32, 48, 64, 80, 96, 112, 128, 144, 160, 176, 192, 208, 224, 240, 256, 272, 288, 304, 320, 336, 352, 368],
            "labelExpr": "['12 Mar 2025','3 Apr 2025','28 Apr 2025','20 May 2025','10 Jun 2025','2 Jul 2025','24 Jul 2025','15 Aug 2025','7 Sep 2025','29 Sep 2025','21 Oct 2025','12 Nov 2025','4 Dec 2025','29 Dec 2025','21 Jan 2026','12 Feb 2026','6 Mar 2026','27 Mar 2026','20 Apr 2026','12 May 2026','3 Jun 2026','24 Jun 2026','16 Jul 2026','7 Aug 2026'][round(datum.value / 16)]",
            "labelAlign": "left", "labelBaseline": "top", "labelPadding": 1, "tickSize": 4,
            "labelOverlap": false, "labelBound": false, "labelFlush": false
          }
        },
        "y": {
          "field": "l", "type": "quantitative", "title": null,
          "scale": {"domain": [95.079, 104.736], "nice": false, "zero": false},
          "axis": {
            "orient": "right", "title": null, "format": ".3f",
            "values": [104.6, 104.26, 103.92, 103.58, 103.25, 102.91, 102.57, 102.23, 101.89, 101.55, 101.21, 100.87, 100.53, 100.19, 99.85, 99.51, 99.17, 98.84, 98.5, 98.16, 97.82, 97.48, 97.14, 96.8, 96.46, 96.12, 95.78, 95.44, 95.11],
            "labelAlign": "left", "labelBaseline": "middle", "labelPadding": 2, "tickSize": 4,
            "labelOverlap": false, "labelBound": false, "labelFlush": false
          }
        },
        "y2": {"field": "h"}
      }
    },
    {
      "data": {"name": "bars"},
      "mark": {"type": "bar", "size": 2, "stroke": "black", "strokeWidth": 1},
      "encoding": {
        "x": {"field": "i", "type": "quantitative", "title": null, "scale": {"domain": [-0.375, 467.875], "nice": false, "zero": false}},
        "y": {"field": "o", "type": "quantitative", "title": null, "scale": {"domain": [95.079, 104.736], "nice": false, "zero": false}},
        "y2": {"field": "c"},
        "fill": {"condition": {"test": "datum.c >= datum.o", "value": "white"}, "value": "black"}
      }
    },
    {
      "data": {"name": "ema20"},
      "mark": {"type": "line", "color": "#008000", "strokeWidth": 2, "clip": true},
      "encoding": {
        "x": {"field": "i", "type": "quantitative", "title": null, "scale": {"domain": [-0.375, 467.875], "nice": false, "zero": false}},
        "y": {"field": "p", "type": "quantitative", "title": null, "scale": {"domain": [95.079, 104.736], "nice": false, "zero": false}}
      }
    },
    {
      "data": {"name": "ema50"},
      "mark": {"type": "line", "color": "#DC143C", "strokeWidth": 2, "clip": true},
      "encoding": {
        "x": {"field": "i", "type": "quantitative", "title": null, "scale": {"domain": [-0.375, 467.875], "nice": false, "zero": false}},
        "y": {"field": "p", "type": "quantitative", "title": null, "scale": {"domain": [95.079, 104.736], "nice": false, "zero": false}}
      }
    },
    {
      "data": {"name": "trend"},
      "mark": {"type": "line", "color": "#FF8C00", "strokeWidth": 2, "clip": true},
      "encoding": {
        "x": {"field": "i", "type": "quantitative", "title": null, "scale": {"domain": [-0.375, 467.875], "nice": false, "zero": false}},
        "y": {"field": "p", "type": "quantitative", "title": null, "scale": {"domain": [95.079, 104.736], "nice": false, "zero": false}}
      }
    },
    {
      "data": {"name": "caption"},
      "mark": {"type": "text", "align": "left", "baseline": "alphabetic", "font": "Liberation Sans", "fontSize": 9.5, "color": "black"},
      "encoding": {
        "x": {"field": "i", "type": "quantitative", "title": null, "scale": {"domain": [-0.375, 467.875], "nice": false, "zero": false}},
        "y": {"field": "p", "type": "quantitative", "title": null, "scale": {"domain": [95.079, 104.736], "nice": false, "zero": false}},
        "text": {"field": "t"}
      }
    },
    {
      "data": {"name": "marker"},
      "mark": {"type": "point", "shape": "triangle-down", "size": 22, "filled": true, "color": "black", "opacity": 1},
      "encoding": {
        "x": {"field": "i", "type": "quantitative", "title": null, "scale": {"domain": [-0.375, 467.875], "nice": false, "zero": false}},
        "y": {"field": "p", "type": "quantitative", "title": null, "scale": {"domain": [95.079, 104.736], "nice": false, "zero": false}}
      }
    },
    {
      "data": {"name": "notes"},
      "mark": {"type": "text", "align": "left", "baseline": "middle", "font": "DejaVu Sans", "fontSize": 10.5, "opacity": 1},
      "encoding": {
        "x": {"field": "i", "type": "quantitative", "title": null, "scale": {"domain": [-0.375, 467.875], "nice": false, "zero": false}},
        "y": {"field": "p", "type": "quantitative", "title": null, "scale": {"domain": [95.079, 104.736], "nice": false, "zero": false}},
        "text": {"field": "t"},
        "color": {"field": "t", "type": "nominal", "scale": {"domain": ["20 EMA", "50 EMA"], "range": ["#008000", "#DC143C"]}, "legend": null}
      }
    },
    {
      "data": {"name": "levels"},
      "transform": [{"filter": "datum.p >= 100"}],
      "mark": {"type": "tick", "orient": "horizontal", "size": 39, "thickness": 11, "color": "#1c1c66", "opacity": 1, "clip": false},
      "encoding": {
        "x": {"datum": 473.2, "type": "quantitative", "title": null},
        "y": {"field": "p", "type": "quantitative", "title": null, "scale": {"domain": [95.079, 104.736], "nice": false, "zero": false}}
      }
    },
    {
      "data": {"name": "levels"},
      "transform": [{"filter": "datum.p < 100"}],
      "mark": {"type": "tick", "orient": "horizontal", "size": 32, "thickness": 11, "color": "#1c1c66", "opacity": 1, "clip": false},
      "encoding": {
        "x": {"datum": 472.4, "type": "quantitative", "title": null},
        "y": {"field": "p", "type": "quantitative", "title": null, "scale": {"domain": [95.079, 104.736], "nice": false, "zero": false}}
      }
    },
    {
      "data": {"name": "last"},
      "mark": {"type": "tick", "orient": "horizontal", "size": 36, "thickness": 11, "color": "black", "opacity": 1, "clip": false},
      "encoding": {
        "x": {"datum": 472.8, "type": "quantitative", "title": null},
        "y": {"field": "p", "type": "quantitative", "title": null, "scale": {"domain": [95.079, 104.736], "nice": false, "zero": false}}
      }
    },
    {
      "data": {"name": "levels"},
      "mark": {"type": "text", "align": "left", "baseline": "middle", "font": "Liberation Sans", "fontSize": 9.5, "color": "white", "clip": false},
      "encoding": {
        "x": {"datum": 469.55, "type": "quantitative", "title": null},
        "y": {"field": "p", "type": "quantitative", "title": null, "scale": {"domain": [95.079, 104.736], "nice": false, "zero": false}},
        "text": {"field": "p", "format": ".3f"}
      }
    },
    {
      "data": {"name": "last"},
      "mark": {"type": "text", "align": "left", "baseline": "middle", "font": "Liberation Sans", "fontSize": 9.5, "color": "white", "clip": false},
      "encoding": {
        "x": {"datum": 469.55, "type": "quantitative", "title": null},
        "y": {"field": "p", "type": "quantitative", "title": null, "scale": {"domain": [95.079, 104.736], "nice": false, "zero": false}},
        "text": {"field": "p", "format": ".3f"}
      }
    }
  ]
}
